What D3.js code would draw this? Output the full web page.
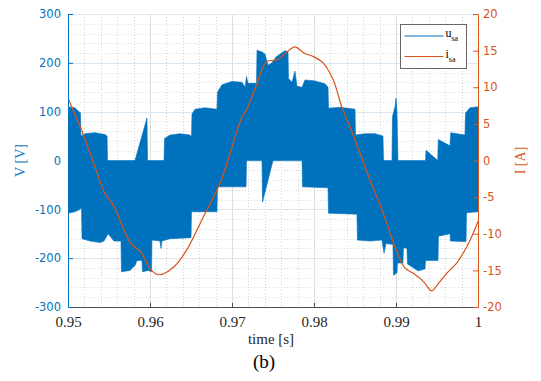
<!DOCTYPE html>
<html>
<head>
<meta charset="utf-8">
<script src="https://cdn.jsdelivr.net/npm/d3@7/dist/d3.min.js"></script>
<style>
  body { margin: 0; background: #fff; }
  svg { display: block; }
</style>
</head>
<body>
<svg id="chart" width="541" height="381"></svg>
<script>

    // upper envelope of the switched voltage u_sa (time [s], V)
    var uTopTime = [0.95000, 0.95085, 0.95134, 0.95152, 0.95158, 0.95207, 0.95329, 0.95451, 0.95476, 0.95482,
                    0.95817, 0.95963, 0.95970, 0.96171, 0.96177, 0.96244, 0.96366, 0.96488, 0.96506, 0.96512,
                    0.96549, 0.96671, 0.96817, 0.96823, 0.96878, 0.97000, 0.97122, 0.97159, 0.97177, 0.97195,
                    0.97299, 0.97305, 0.97366, 0.97402, 0.97439, 0.97488, 0.97537, 0.97585, 0.97646, 0.97683,
                    0.97689, 0.97732, 0.97768, 0.97793, 0.97854, 0.97890, 0.98012, 0.98134, 0.98171, 0.98177,
                    0.98317, 0.98500, 0.98506, 0.98622, 0.98744, 0.98841, 0.98848, 0.98951, 0.98957, 0.98988,
                    0.99000, 0.99012, 0.99024, 0.99360, 0.99366, 0.99509, 0.99516, 0.99659, 0.99667, 0.99841,
                    0.99848, 0.99902, 1.00000];
    var uTop = [110, 108, 100, 98, 50, 55, 57, 53, 50, 0,
                0, 87, 0, 0, 45, 52, 55, 52, 48, 95,
                105, 108, 105, 140, 155, 162, 160, 150, 172, 158,
                158, 226, 222, 218, 195, 200, 212, 218, 225, 222,
                168, 160, 183, 152, 150, 165, 163, 157, 150, 107,
                109, 105, 52, 55, 55, 50, 0, 0, 90, 110,
                128, 100, 0, 0, 21, 0, 43, 30, 57, 52,
                97, 108, 110];

    // lower envelope of u_sa
    var uBotTime = [0.95000, 0.95085, 0.95146, 0.95165, 0.95171, 0.95268, 0.95390, 0.95439, 0.95488, 0.95537,
                    0.95561, 0.95646, 0.95652, 0.95756, 0.95817, 0.95841, 0.95902, 0.95909, 0.95976, 0.96018,
                    0.96024, 0.96122, 0.96134, 0.96146, 0.96244, 0.96500, 0.96506, 0.96817, 0.96823, 0.97171,
                    0.97177, 0.97366, 0.97372, 0.97500, 0.97854, 0.97860, 0.98171, 0.98177, 0.98524, 0.98530,
                    0.98683, 0.98829, 0.98854, 0.98878, 0.98963, 0.98970, 0.99012, 0.99018, 0.99085, 0.99091,
                    0.99134, 0.99140, 0.99268, 0.99354, 0.99360, 0.99512, 0.99518, 0.99659, 0.99665, 0.99854,
                    0.99860, 1.00000];
    var uBot = [-108, -105, -100, -97, -160, -165, -168, -165, -150, -160,
                -165, -165, -228, -225, -215, -205, -205, -228, -225, -228,
                -163, -165, -180, -165, -160, -158, -105, -105, -54, -54,
                0, 0, -85, 0, 0, -54, -56, -108, -110, -163,
                -165, -163, -190, -170, -172, -235, -230, -210, -210, -178,
                -180, -212, -226, -222, -205, -205, -155, -150, -165, -166,
                -107, -105];

    // phase current i_sa (time [s], A)
    var iTime = [0.95000, 0.95174, 0.95357, 0.95439, 0.95561, 0.95765, 0.95887, 0.96009, 0.96110, 0.96293,
                 0.96448, 0.96650, 0.96854, 0.97118, 0.97177, 0.97299, 0.97421, 0.97545, 0.97626, 0.97699,
                 0.97768, 0.97890, 0.97991, 0.98113, 0.98235, 0.98338, 0.98439, 0.98561, 0.98683, 0.98845,
                 0.98988, 0.99110, 0.99211, 0.99333, 0.99435, 0.99516, 0.99618, 0.99740, 0.99862, 0.99943,
                 1.00000];
    var iSa = [8.5, 3.9, -1.75, -4.25, -6.3, -11.3, -12.45, -14.9, -15.6, -14.5,
               -12.2, -7.7, -3.1, 5.8, 6.9, 10.3, 13.5, 13.7, 14.4, 15.1,
               15.5, 14.6, 14.2, 13.3, 11.0, 7.35, 4.6, 1.0, -2.66, -7.2,
               -11.8, -14.7, -15.4, -16.5, -17.8, -16.8, -15.4, -14.0, -11.8, -9.9,
               -8.3];

    var xTicks = [0.95, 0.96, 0.97, 0.98, 0.99, 1];
    var vTicks = [-300, -200, -100, 0, 100, 200, 300];
    var iTicks = [-20, -15, -10, -5, 0, 5, 10, 15, 20];

    var blue = '#0072BD';
    var orange = '#D95319';

    var margin = {left: 68, right: 63, top: 14, bottom: 74};
    var w = 541 - margin.left - margin.right;
    var h = 381 - margin.top - margin.bottom;

    var svg = d3.select('#chart')
                .append('g')
                .attr('transform', 'translate(' + margin.left + ',' + margin.top + ')');

    var xScale = d3.scaleLinear().domain([0.95, 1]).range([0, w]);
    var yScale = d3.scaleLinear().domain([-300, 300]).range([h, 0]);
    var iScale = d3.scaleLinear().domain([-20, 20]).range([h, 0]);

    // grid: dotted minor, light solid major
    var xMinor = d3.range(0, 26).map(function(k) { return 0.95 + k * 0.002; })
                   .filter(function(d, k) { return k % 5 !== 0; });
    var yMinor = d3.range(-300, 301, 20).filter(function(d) { return d % 100 !== 0; });

    var grid = svg.append('g');
    grid.selectAll('.xminor')
        .data(xMinor)
        .enter().append('line')
        .attr('x1', function(d) { return Math.round(xScale(d)) + 0.5; })
        .attr('x2', function(d) { return Math.round(xScale(d)) + 0.5; })
        .attr('y1', 0).attr('y2', h)
        .attr('stroke', '#d4d4d4')
        .attr('stroke-dasharray', '1,2');
    grid.selectAll('.yminor')
        .data(yMinor)
        .enter().append('line')
        .attr('x1', 0).attr('x2', w)
        .attr('y1', function(d) { return Math.round(yScale(d)) + 0.5; })
        .attr('y2', function(d) { return Math.round(yScale(d)) + 0.5; })
        .attr('stroke', '#cfdde9')
        .attr('stroke-dasharray', '1,2');
    grid.selectAll('.xmajor')
        .data(xTicks)
        .enter().append('line')
        .attr('x1', function(d) { return Math.round(xScale(d)) + 0.5; })
        .attr('x2', function(d) { return Math.round(xScale(d)) + 0.5; })
        .attr('y1', 0).attr('y2', h)
        .attr('stroke', '#dedede');
    grid.selectAll('.ymajor')
        .data(vTicks)
        .enter().append('line')
        .attr('x1', 0).attr('x2', w)
        .attr('y1', function(d) { return Math.round(yScale(d)) + 0.5; })
        .attr('y2', function(d) { return Math.round(yScale(d)) + 0.5; })
        .attr('stroke', '#d9e7f3');

    svg.append('clipPath')
       .attr('id', 'chart-area')
       .append('rect')
       .attr('width', w)
       .attr('height', h);

    // voltage band: upper envelope then lower envelope backwards
    var band = uTopTime.map(function(t, k) { return [t, uTop[k]]; })
               .concat(uBotTime.map(function(t, k) { return [t, uBot[k]]; }).reverse());

    var bandLine = d3.line()
                     .x(function(d) { return xScale(d[0]); })
                     .y(function(d) { return yScale(d[1]); });

    svg.append('path')
       .datum(band)
       .attr('clip-path', 'url(#chart-area)')
       .attr('d', function(d) { return bandLine(d) + 'Z'; })
       .attr('fill', blue)
       .attr('stroke', blue)
       .attr('stroke-width', 0.6);

    var iLine = d3.line()
                  .curve(d3.curveCatmullRom)
                  .x(function(d) { return xScale(d[0]); })
                  .y(function(d) { return iScale(d[1]); });

    svg.append('path')
       .datum(iTime.map(function(t, k) { return [t, iSa[k]]; }))
       .attr('clip-path', 'url(#chart-area)')
       .attr('d', iLine)
       .attr('fill', 'none')
       .attr('stroke', orange)
       .attr('stroke-width', 1.2);

    // axes
    var xAxis = d3.axisBottom(xScale)
                  .tickValues(xTicks)
                  .tickFormat(function(d) { return String(d); })
                  .tickSizeInner(-4)
                  .tickSizeOuter(0)
                  .tickPadding(9);
    var yAxis = d3.axisLeft(yScale)
                  .tickValues(vTicks)
                  .tickFormat(function(d) { return String(d); })
                  .tickSizeInner(-5)
                  .tickSizeOuter(0)
                  .tickPadding(7);
    var iAxis = d3.axisRight(iScale)
                  .tickValues(iTicks)
                  .tickFormat(function(d) { return String(d); })
                  .tickSizeInner(-5)
                  .tickSizeOuter(0)
                  .tickPadding(5);

    var gx = svg.append('g')
                .attr('class', 'x axis')
                .attr('transform', 'translate(0,' + h + ')')
                .call(xAxis);
    gx.selectAll('path, line').attr('stroke', '#4d4d4d');
    gx.selectAll('text')
      .attr('fill', '#262626')
      .attr('font-family', '"Liberation Serif", serif')
      .attr('font-size', '15px');

    var gy = svg.append('g')
                .attr('class', 'y axis')
                .call(yAxis);
    gy.selectAll('path, line').attr('stroke', blue);
    gy.selectAll('text')
      .attr('fill', blue)
      .attr('font-family', '"DejaVu Sans", sans-serif')
      .attr('font-size', '11.5px');

    var gi = svg.append('g')
                .attr('class', 'y axis')
                .attr('transform', 'translate(' + w + ',0)')
                .call(iAxis);
    gi.selectAll('path, line').attr('stroke', orange);
    gi.selectAll('text')
      .attr('fill', orange)
      .attr('font-family', '"DejaVu Sans", sans-serif')
      .attr('font-size', '11.5px');

    // axis labels
    svg.append('text')
       .attr('transform', 'translate(' + (20 - margin.left) + ',' + (h / 2) + ') rotate(-90)')
       .attr('dy', '0.35em')
       .style('text-anchor', 'middle')
       .attr('font-family', '"Liberation Serif", serif')
       .attr('font-size', '14px')
       .attr('fill', blue)
       .text('V [V]');

    svg.append('text')
       .attr('transform', 'translate(' + (w + 42) + ',' + (h / 2) + ') rotate(-90)')
       .attr('dy', '0.35em')
       .style('text-anchor', 'middle')
       .attr('font-family', '"Liberation Serif", serif')
       .attr('font-size', '14px')
       .attr('fill', orange)
       .text('I [A]');

    svg.append('text')
       .attr('x', w / 2 - 2)
       .attr('y', h + 37)
       .style('text-anchor', 'middle')
       .attr('font-family', '"Liberation Serif", serif')
       .attr('font-size', '15px')
       .attr('fill', '#262626')
       .text('time [s]');

    svg.append('text')
       .attr('x', w / 2 - 9)
       .attr('y', h + 61)
       .style('text-anchor', 'middle')
       .attr('font-family', '"Liberation Serif", serif')
       .attr('font-size', '19px')
       .attr('fill', '#000')
       .text('(b)');

    // legend
    var legend = svg.append('g')
                    .attr('transform', 'translate(' + (400.5 - margin.left) + ',' + (24.5 - margin.top) + ')');
    legend.append('rect')
          .attr('width', 66)
          .attr('height', 44)
          .attr('fill', '#fff')
          .attr('stroke', '#666');

    var items = [{name: 'u', color: blue, y: 11.5}, {name: 'i', color: orange, y: 32}];
    items.forEach(function(it) {
        legend.append('line')
              .attr('x1', 4).attr('x2', 43)
              .attr('y1', it.y).attr('y2', it.y)
              .attr('stroke', it.color)
              .attr('stroke-width', 1.2);
        var t = legend.append('text')
                      .attr('x', 45)
                      .attr('y', it.y + 1)
                      .attr('font-family', '"Liberation Serif", serif')
                      .attr('font-size', '12px')
                      .attr('fill', '#000')
                      .text(it.name);
        t.append('tspan')
         .attr('dy', 4)
         .attr('font-size', '8px')
         .text('sa');
    });

</script>
</body>
</html>
